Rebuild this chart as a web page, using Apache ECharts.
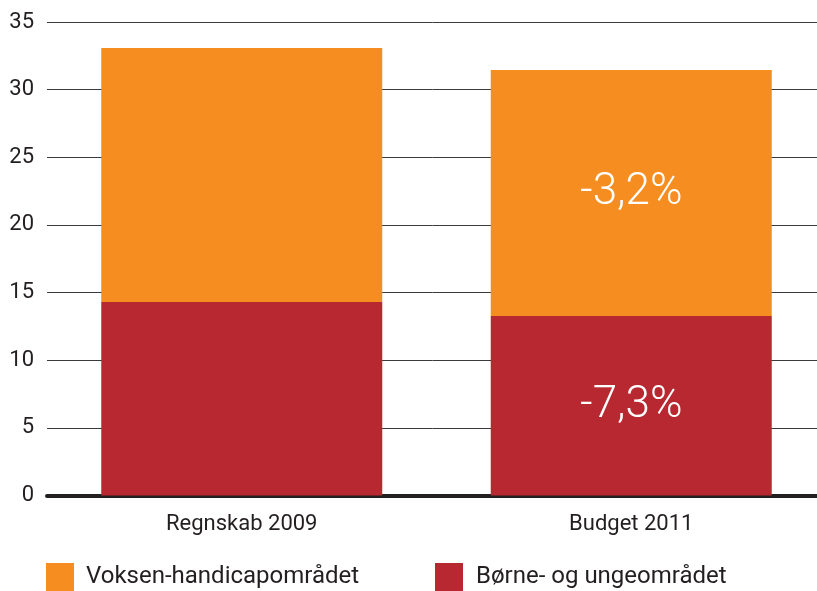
<!DOCTYPE html>
<html>
<head>
<meta charset="utf-8">
<script src="https://cdn.jsdelivr.net/npm/echarts@6/dist/echarts.min.js"></script>
<style>
  html, body { margin: 0; padding: 0; background: #fff; }
  #main { width: 817px; height: 591px; }
</style>
</head>
<body>
<div id="main"></div>
<script>
const categories = ['Regnskab 2009', 'Budget 2011']
const voksen = [18.78, 18.18]
const boerne = [14.30, 13.27]
const voksenLabels = ['', '-3,2%']
const boerneLabels = ['', '-7,3%']

const chart = echarts.init(document.getElementById('main'))

const fontFamily = 'Roboto'

chart.setOption({
  animation: false,
  grid: { left: 47, width: 779, top: 22, bottom: 95.5, containLabel: false, outerBoundsMode: 'none' },
  legend: [
    {
      data: ['Voksen-handicapområdet'],
      left: 46, top: 563, padding: 0,
      itemWidth: 28, itemHeight: 28,
      icon: 'rect',
      textStyle: { fontFamily, fontSize: 24, color: '#231f20', padding: [0, 0, 0, 7] }
    },
    {
      data: ['Børne- og ungeområdet'],
      left: 435, top: 563, padding: 0,
      itemWidth: 28, itemHeight: 28,
      icon: 'rect',
      textStyle: { fontFamily, fontSize: 24, color: '#231f20', padding: [0, 0, 0, 8] }
    }
  ],
  xAxis: {
    type: 'category',
    data: categories,
    axisLine: { lineStyle: { color: '#231f20', width: 4 } },
    axisTick: { show: false },
    axisLabel: { fontFamily, fontSize: 22, color: '#231f20', margin: 18 }
  },
  yAxis: {
    type: 'value',
    min: 0, max: 35, interval: 5,
    axisLine: { show: false },
    axisTick: { show: false },
    axisLabel: { fontFamily, fontSize: 22, color: '#231f20', margin: 13 },
    splitLine: { lineStyle: { color: '#3a3a3a', width: 1 } }
  },
  series: [
    {
      name: 'Børne- og ungeområdet',
      type: 'bar',
      stack: 'total',
      barWidth: 281,
      data: boerne,
      itemStyle: { color: '#b72830' },
      label: {
        show: true, position: 'inside',
        formatter: p => boerneLabels[p.dataIndex],
        fontFamily, fontWeight: 300, fontSize: 44, color: '#fff'
      }
    },
    {
      name: 'Voksen-handicapområdet',
      type: 'bar',
      stack: 'total',
      barWidth: 281,
      data: voksen,
      itemStyle: { color: '#f58d20' },
      label: {
        show: true, position: 'inside',
        formatter: p => voksenLabels[p.dataIndex],
        fontFamily, fontWeight: 300, fontSize: 44, color: '#fff'
      }
    }
  ]
})
</script>
</body>
</html>
